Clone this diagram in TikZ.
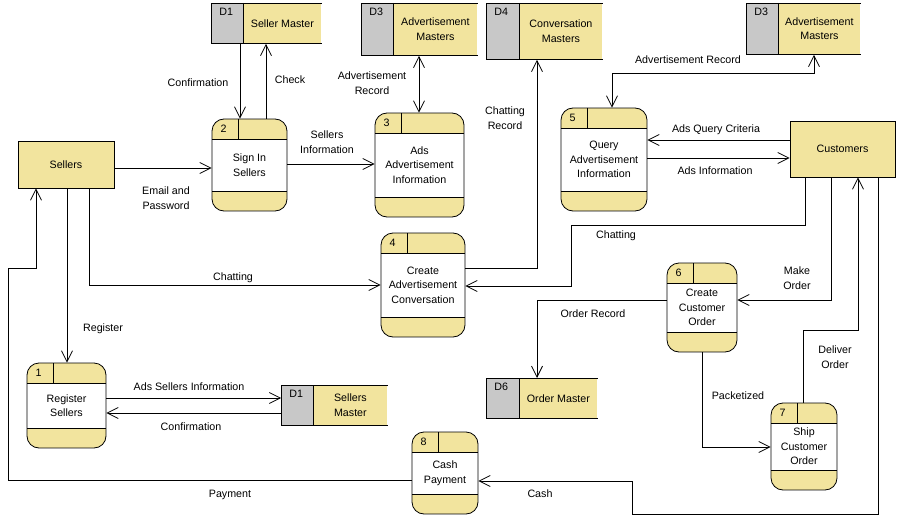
\documentclass[tikz,border=0pt]{standalone}
\usepackage{fontspec}
\setmainfont{Liberation Sans}
\usetikzlibrary{arrows.meta,calc}
\definecolor{yel}{RGB}{242,228,158}
\definecolor{gry}{RGB}{200,200,200}
\newcommand\mkproc[7]{%
  \node[proc, minimum width=#4pt, minimum height=#5pt] (#1) at (#2,#3) {#7};
  \node[idtxt] (#1n) at ([xshift=12pt,yshift=-10pt]#1.north west) {#6};}
\newcommand\mkstore[8]{%
  \node[sg, minimum width={(#3-#2)*1pt}, minimum height={(#6-#5)*1pt}] (#1g) at (#3,#5) {};
  \node[sy, minimum width={(#4-#3)*1pt}, minimum height={(#6-#5)*1pt}] (#1) at (#3,#5) {#8};
  \node[idtxt] (#1n) at ([xshift=15pt,yshift=-9pt]#1g.north west) {#7};
  \draw (#1.north east) -- (#1g.north west) -- (#1g.south west) -- (#1.south east)
        (#1.north west) -- (#1.south west);}
\begin{document}
\begin{tikzpicture}[x=1pt,y=-1pt,
  font=\fontsize{10.7}{14.5}\selectfont,
  line width=0.8pt,
  arr/.style={-{Straight Barb[length=11pt,width=11pt]}},
  darr/.style={{Straight Barb[length=11pt,width=11pt]}-{Straight Barb[length=11pt,width=11pt]}},
  ent/.style={draw, fill=yel, inner sep=0pt, align=center},
  proc/.style={draw, fill=white, rounded corners=12pt, inner sep=0pt, align=center,
    path picture={
      \fill[yel, sharp corners] (path picture bounding box.north west) rectangle ([yshift=-20pt]path picture bounding box.north east);
      \fill[yel, sharp corners] (path picture bounding box.south west) rectangle ([yshift=20pt]path picture bounding box.south east);
      \draw[sharp corners] ([yshift=-20pt]path picture bounding box.north west) -- ([yshift=-20pt]path picture bounding box.north east);
      \draw[sharp corners] ([yshift=20pt]path picture bounding box.south west) -- ([yshift=20pt]path picture bounding box.south east);
      \draw[sharp corners] ([xshift=26.5pt]path picture bounding box.north west) -- ([xshift=26.5pt,yshift=-20pt]path picture bounding box.north west);
    }},
  idtxt/.style={inner sep=0pt},
  sy/.style={fill=yel, inner sep=0pt, align=center, anchor=north west},
  sg/.style={fill=gry, inner sep=0pt, anchor=north east},
  lbl/.style={align=center, inner sep=1pt}
]
\useasboundingbox[fill=white] (0,0) rectangle (915,524);

% external entities
\node[ent, minimum width=96pt, minimum height=47pt] (sellers) at (66,164.5) {Sellers};
\node[ent, minimum width=105pt, minimum height=56pt] (customers) at (842.5,149) {Customers};

% processes
\mkproc{p1}{66.5}{405.5}{79}{85}{1}{Register\\Sellers}
\mkproc{p2}{249.5}{165}{75}{92}{2}{Sign In\\Sellers}
\mkproc{p3}{419.5}{165}{89}{104}{3}{Ads\\Advertisement\\Information}
\mkproc{p4}{423}{285}{84}{104}{4}{Create\\Advertisement\\Conversation}
\mkproc{p5}{604}{159.5}{86}{103}{5}{Query\\Advertisement\\Information}
\mkproc{p6}{702}{307.5}{70}{89}{6}{Create\\Customer\\Order}
\mkproc{p7}{804}{446.5}{66}{87}{7}{Ship\\Customer\\Order}
\mkproc{p8}{445}{473}{66}{82}{8}{Cash\\Payment}

% data stores
\mkstore{d1t}{212}{243}{321}{3}{43}{D1}{Seller Master}
\mkstore{d3a}{362}{393}{477}{3}{55}{D3}{Advertisement\\Masters}
\mkstore{d4}{487}{519}{602}{3}{59}{D4}{Conversation\\Masters}
\mkstore{d3b}{747}{778}{860}{3}{54}{D3}{Advertisement\\Masters}
\mkstore{d1b}{282}{313}{387}{385}{425}{D1}{Sellers\\Master}
\mkstore{d6}{487}{519}{597}{378}{418}{D6}{Order Master}

% flows
\draw[arr] (sellers.east |- 0,168) -- (p2.west |- 0,168);
\draw[arr] (p2.east |- 0,164) -- (p3.west |- 0,164);
\draw[arr] (d1tg.south -| 240,0) -- (p2.north -| 240,0);
\draw[arr] (p2.north -| 266,0) -- (d1t.south -| 266,0);
\draw[darr] (d3a.south -| 419,0) -- (p3.north -| 419,0);
\draw[arr] (p4.east |- 0,268) -| (d4.south -| 537,0);
\draw[darr] (d3b.south -| 814,0) |- (612,73) -- (p5.north -| 612,0);
\draw[arr] (customers.west |- 0,140) -- (p5.east |- 0,140);
\draw[arr] (p5.east |- 0,158) -- (customers.west |- 0,158);
\draw[arr] (customers.south -| 805,0) |- (571,225) |- (p4.east |- 0,286);
\draw[arr] (customers.south -| 831,0) |- (p6.east |- 0,300);
\draw[arr] (p6.west |- 0,300) -| (d6.north -| 537,0);
\draw[arr] (p6.south -| 702,0) |- (p7.west |- 0,447);
\draw[arr] (p7.north -| 803,0) |- (858,330) -- (customers.south -| 858,0);
\draw[arr] (customers.south -| 878,0) |- (632,514) |- (p8.east |- 0,481);
\draw[arr] (p8.west |- 0,480) -| (8,268) -| (sellers.south -| 36,0);
\draw[arr] (sellers.south -| 89,0) |- (p4.west |- 0,285);
\draw[arr] (sellers.south -| 67,0) -- (p1.north -| 67,0);
\draw[arr] (p1.east |- 0,398) -- (d1bg.west |- 0,398);
\draw[arr] (d1bg.west |- 0,413) -- (p1.east |- 0,413);

% labels
\node[lbl] (l1) at (166,198) {Email and\\Password};
\node[lbl] (l2) at (327,142) {Sellers\\Information};
\node[lbl] (l3) at (198,83) {Confirmation};
\node[lbl] (l4) at (290,80) {Check};
\node[lbl] (l5) at (372,83) {Advertisement\\Record};
\node[lbl] (l6) at (505,118) {Chatting\\Record};
\node[lbl] (l7) at (688,60) {Advertisement Record};
\node[lbl] (l8) at (716,130) {Ads Query Criteria};
\node[lbl] (l9) at (715,171) {Ads Information};
\node[lbl] (l10) at (616,236) {Chatting};
\node[lbl] (l11) at (797,278) {Make\\Order};
\node[lbl] (l12) at (593,314) {Order Record};
\node[lbl] (l13) at (738,396) {Packetized};
\node[lbl] (l14) at (835,357) {Deliver\\Order};
\node[lbl] (l15) at (540,494) {Cash};
\node[lbl] (l16) at (230,495) {Payment};
\node[lbl] (l17) at (233,278) {Chatting};
\node[lbl] (l18) at (103,329) {Register};
\node[lbl] (l19) at (189,387) {Ads Sellers Information};
\node[lbl] (l20) at (191,427) {Confirmation};
\end{tikzpicture}
\end{document}
